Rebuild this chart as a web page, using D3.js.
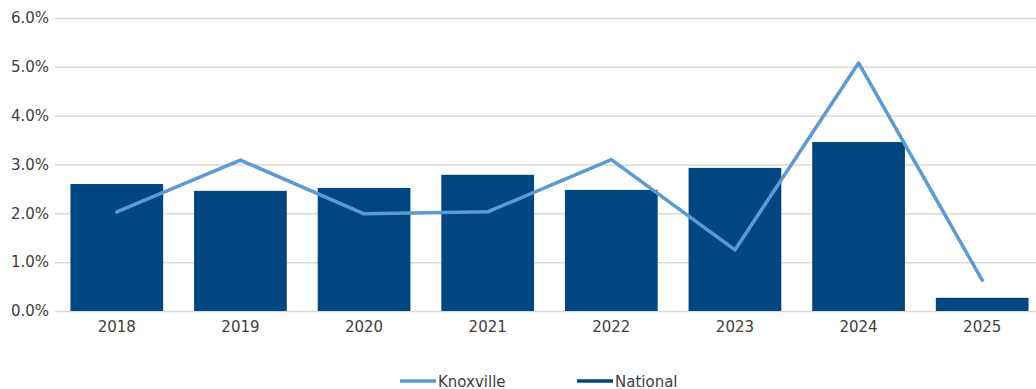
<!DOCTYPE html>
<html>
<head>
<meta charset="utf-8">
<script src="https://cdn.jsdelivr.net/npm/d3@7"></script>
<style>
  body { margin: 0; background: #fff; overflow: hidden; }
  text { font-family: "DejaVu Sans", sans-serif; fill: #404040; }
</style>
</head>
<body>
<div id="container"></div>
<script>
/* CONSTANTS AND GLOBALS */
const width = 1036;
const height = 389;
const plot = { left: 55, right: 1044, top: 18, bottom: 311 };

/* DATA */
const years = ["2018", "2019", "2020", "2021", "2022", "2023", "2024", "2025"];
const national = [2.60, 2.46, 2.52, 2.79, 2.48, 2.93, 3.46, 0.27];
const knoxville = [2.03, 3.09, 1.99, 2.03, 3.10, 1.25, 5.08, 0.63];
const yTicks = [0, 1, 2, 3, 4, 5, 6];

const barColor = "#004680";
const lineColor = "#5B9BD5";

const svg = d3.select("#container").append("svg")
  .attr("width", width)
  .attr("height", height);

/* SCALES */
const xScale = d3.scaleBand()
  .domain(years)
  .range([plot.left, plot.right])
  .paddingInner(0.25)
  .paddingOuter(0.125);

const yScale = d3.scaleLinear()
  .domain([0, 6])
  .range([plot.bottom, plot.top]);

// gridlines + y labels
const yAxis = d3.axisLeft(yScale)
  .tickValues(yTicks)
  .tickSize(-(plot.right - plot.left))
  .tickPadding(6)
  .tickFormat(d => d.toFixed(1) + "%");

svg.append("g")
  .attr("transform", `translate(${plot.left},0)`)
  .call(yAxis)
  .call(g => g.select(".domain").remove())
  .call(g => g.selectAll(".tick line").attr("stroke", "#d9d9d9").attr("stroke-width", 1.5))
  .call(g => g.selectAll(".tick text").attr("font-size", 15).attr("fill", "#404040"));

/* BARS */
svg.selectAll("rect.bar")
  .data(national)
  .join("rect")
  .attr("class", "bar")
  .attr("x", (d, i) => xScale(years[i]))
  .attr("y", d => yScale(d))
  .attr("width", xScale.bandwidth())
  .attr("height", d => yScale(0) - yScale(d))
  .attr("fill", barColor);

/* LINE */
const line = d3.line()
  .x((d, i) => xScale(years[i]) + xScale.bandwidth() / 2)
  .y(d => yScale(d));

svg.append("path")
  .datum(knoxville)
  .attr("d", line)
  .attr("fill", "none")
  .attr("stroke", lineColor)
  .attr("stroke-width", 3.5)
  .attr("stroke-linejoin", "round")
  .attr("stroke-linecap", "round");

// x labels
const xAxis = d3.axisBottom(xScale).tickSize(0).tickPadding(10);
svg.append("g")
  .attr("transform", `translate(0,${plot.bottom})`)
  .call(xAxis)
  .call(g => g.select(".domain").remove())
  .call(g => g.selectAll(".tick text").attr("font-size", 15).attr("fill", "#404040"));

/* LEGEND */
const legendItems = [
  { name: "Knoxville", color: lineColor, x: 400 },
  { name: "National", color: barColor, x: 577 }
];
const legend = svg.append("g").attr("transform", "translate(0,381)");
legend.selectAll("line")
  .data(legendItems)
  .join("line")
  .attr("x1", d => d.x)
  .attr("x2", d => d.x + 36)
  .attr("y1", 0)
  .attr("y2", 0)
  .attr("stroke", d => d.color)
  .attr("stroke-width", 3.5);
legend.selectAll("text")
  .data(legendItems)
  .join("text")
  .attr("x", d => d.x + 38)
  .attr("y", 5.5)
  .attr("font-size", 15)
  .text(d => d.name);
</script>
</body>
</html>
